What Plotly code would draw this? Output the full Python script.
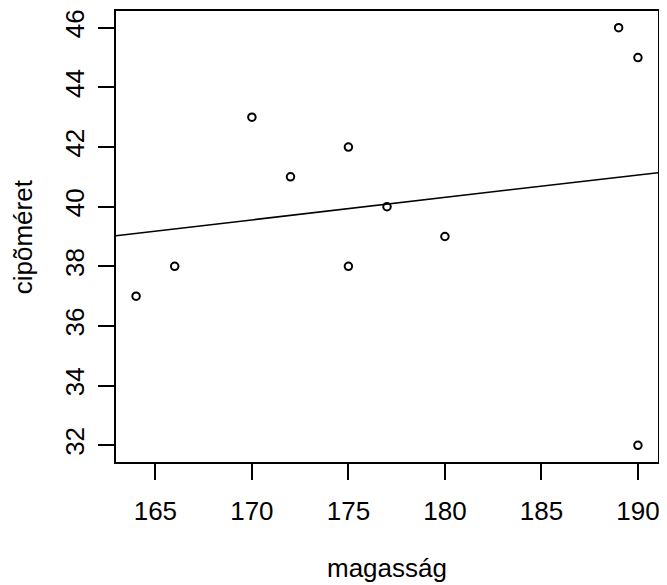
import numpy as np
import plotly.graph_objects as go

magassag = [164, 166, 170, 172, 175, 175, 177, 180, 189, 190, 190]
cipomeret = [37, 38, 43, 41, 42, 38, 40, 39, 46, 45, 32]
x_ticks = [165, 170, 175, 180, 185, 190]
y_ticks = [32, 34, 36, 38, 40, 42, 44, 46]

def r_range(v):
    lo, hi = min(v), max(v)
    d = (hi - lo) * 0.04
    return [lo - d, hi + d]

xr = r_range(magassag)
yr = r_range(cipomeret)

slope, intercept = np.polyfit(magassag, cipomeret, 1)
lx = np.array(xr)
ly = intercept + slope * lx

FONT = "Liberation Sans, Arial, Helvetica, sans-serif"
fs = 26

fig = go.Figure()
fig.add_trace(go.Scatter(x=magassag, y=cipomeret, mode="markers",
                         marker=dict(symbol="circle-open", size=7.5, color="black",
                                     line=dict(width=2, color="black")),
                         showlegend=False, cliponaxis=False))
fig.add_trace(go.Scatter(x=lx, y=ly, mode="lines", line=dict(color="black", width=1.5),
                         showlegend=False))

axis_common = dict(showgrid=False, zeroline=False, showline=True, linecolor="black",
                   linewidth=1.6, mirror=True, ticks="outside", ticklen=16, tickwidth=1.6,
                   tickcolor="black", tickfont=dict(family=FONT, size=fs, color="black"))

fig.update_xaxes(range=xr, tickvals=x_ticks, ticktext=[str(t) for t in x_ticks],
                 ticklabelstandoff=9, **axis_common)
fig.update_yaxes(range=yr, tickvals=y_ticks, ticktext=[str(t) for t in y_ticks],
                 tickangle=-90, ticklabelstandoff=4, **axis_common)

fig.add_annotation(text="magasság", xref="paper", yref="paper", x=0.5, y=-0.234,
                   showarrow=False, font=dict(family=FONT, size=fs, color="black"),
                   xanchor="center", yanchor="middle")
fig.add_annotation(text="cipõméret", xref="paper", yref="paper", x=-0.172, y=0.5,
                   showarrow=False, textangle=-90,
                   font=dict(family=FONT, size=fs, color="black"),
                   xanchor="center", yanchor="middle")

fig.update_layout(width=659, height=577, plot_bgcolor="white", paper_bgcolor="white",
                  margin=dict(l=108, r=9, t=1, b=123))
fig.write_html("out.html")
